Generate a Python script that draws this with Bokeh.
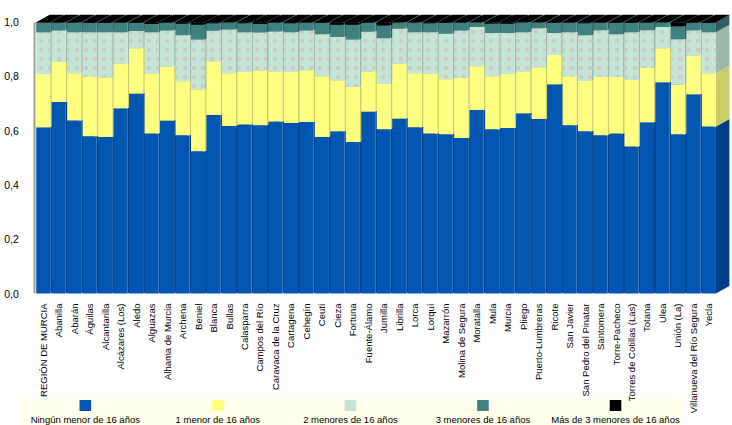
import math
from bokeh.plotting import figure
from bokeh.models import Range1d, LinearAxis, FixedTicker, CustomJSTickFormatter, ColumnDataSource
from bokeh.embed import file_html
from bokeh.resources import INLINE
from bokeh.core.properties import value

municipios = [
    "REGIÓN DE MURCIA", "Abanilla", "Abarán", "Águilas", "Alcantarilla",
    "Alcázares (Los)", "Aledo", "Alguazas", "Alhama de Murcia", "Archena",
    "Beniel", "Blanca", "Bullas", "Calasparra", "Campos del Río",
    "Caravaca de la Cruz", "Cartagena", "Cehegín", "Ceutí", "Cieza",
    "Fortuna", "Fuente-Álamo", "Jumilla", "Librilla", "Lorca", "Lorquí",
    "Mazarrón", "Molina de Segura", "Moratalla", "Mula", "Murcia", "Pliego",
    "Puerto-Lumbreras", "Ricote", "San Javier", "San Pedro del Pinatar",
    "Santomera", "Torre-Pacheco", "Torres de Cotillas (Las)", "Totana", "Ulea",
    "Unión (La)", "Villanueva del Río Segura", "Yecla",
]

ninguno = [0.613, 0.706, 0.638, 0.580, 0.577, 0.683, 0.737, 0.590, 0.638, 0.583,
           0.524, 0.658, 0.617, 0.623, 0.620, 0.634, 0.628, 0.632, 0.577, 0.598,
           0.558, 0.671, 0.605, 0.645, 0.613, 0.590, 0.587, 0.573, 0.676, 0.605,
           0.610, 0.664, 0.643, 0.771, 0.620, 0.598, 0.583, 0.590, 0.542, 0.631,
           0.779, 0.587, 0.734, 0.616]
uno = [0.196, 0.147, 0.174, 0.220, 0.219, 0.165, 0.167, 0.219, 0.199, 0.199,
       0.228, 0.198, 0.195, 0.193, 0.202, 0.184, 0.188, 0.191, 0.224, 0.187,
       0.203, 0.147, 0.167, 0.202, 0.199, 0.219, 0.203, 0.221, 0.162, 0.196,
       0.199, 0.152, 0.191, 0.108, 0.181, 0.185, 0.215, 0.208, 0.245, 0.200,
       0.125, 0.184, 0.143, 0.196]
dos = [0.153, 0.116, 0.151, 0.163, 0.167, 0.115, 0.064, 0.154, 0.132, 0.170,
       0.184, 0.113, 0.161, 0.147, 0.140, 0.148, 0.147, 0.146, 0.155, 0.160,
       0.175, 0.148, 0.169, 0.130, 0.151, 0.154, 0.167, 0.175, 0.144, 0.159,
       0.151, 0.147, 0.144, 0.081, 0.162, 0.169, 0.172, 0.158, 0.176, 0.139,
       0.078, 0.166, 0.093, 0.151]
tres = [0.034, 0.029, 0.035, 0.034, 0.034, 0.035, 0.029, 0.030, 0.029, 0.042,
        0.055, 0.027, 0.026, 0.033, 0.031, 0.032, 0.033, 0.029, 0.041, 0.046,
        0.055, 0.032, 0.047, 0.022, 0.035, 0.033, 0.040, 0.029, 0.017, 0.034,
        0.034, 0.036, 0.021, 0.037, 0.035, 0.044, 0.028, 0.041, 0.034, 0.028,
        0.017, 0.047, 0.028, 0.034]
mas = [0.004, 0.002, 0.002, 0.003, 0.003, 0.002, 0.003, 0.007, 0.002, 0.006,
       0.009, 0.004, 0.001, 0.004, 0.007, 0.002, 0.004, 0.002, 0.003, 0.009,
       0.009, 0.002, 0.012, 0.001, 0.002, 0.004, 0.003, 0.002, 0.001, 0.006,
       0.006, 0.001, 0.001, 0.003, 0.002, 0.004, 0.002, 0.003, 0.003, 0.002,
       0.001, 0.016, 0.002, 0.003]

series_names = ["Ningún menor de 16 años", "1 menor de 16 años",
                "2 menores de 16 años", "3 menores de 16 años",
                "Más de 3 menores de 16 años"]
front_colors = ["#0056b0", "#ffff80", "#c4e6d6", "#408080", "#000000"]
side_colors = ["#003f86", "#cccc66", "#9cb8ab", "#2c5f5f", "#000000"]

# layout constants (page pixels; Bokeh's page template has no body margin)
W, H = 732, 425
BAR_W = 0.91
DX, DY = 0.87, 0.0276
PX_X, PX_Y = 15.48, 271.3
x_start = -BAR_W / 2 - 35.7 / PX_X
x_end = x_start + W / PX_X
y_end = 293 / PX_Y
y_start = y_end - H / PX_Y

p = figure(width=W, height=H, x_range=Range1d(x_start, x_end),
           y_range=Range1d(y_start, y_end), output_backend="svg",
           toolbar_location=None, min_border=0, x_axis_type=None,
           y_axis_type=None, outline_line_color=None)
p.xgrid.visible = False
p.ygrid.visible = False
p.extra_x_ranges = {"px": Range1d(0, W)}
p.extra_y_ranges = {"py": Range1d(H, 0)}

series = [ninguno, uno, dos, tres, mas]
front = dict(left=[], right=[], bottom=[], top=[], color=[], hatch=[])
side = dict(xs=[], ys=[], color=[])
topf = dict(xs=[], ys=[], color=[])
for i in range(len(municipios)):
    l, r = i - BAR_W / 2, i + BAR_W / 2
    base = 0.0
    for k, vals in enumerate(series):
        v = vals[i]
        front["left"].append(l); front["right"].append(r)
        front["bottom"].append(base); front["top"].append(base + v)
        front["color"].append(front_colors[k])
        front["hatch"].append("dot" if k == 2 else " ")
        side["xs"].append([r, r + DX, r + DX, r])
        side["ys"].append([base, base + DY, base + v + DY, base + v])
        side["color"].append(side_colors[k])
        base += v
    topf["xs"].append([l, r, r + DX, l + DX])
    topf["ys"].append([base, base, base + DY, base + DY])
    topf["color"].append(front_colors[-1])

p.patches("xs", "ys", source=ColumnDataSource(side), fill_color="color",
          line_color=None)
p.patches("xs", "ys", source=ColumnDataSource(topf), fill_color="color",
          line_color=None)
p.quad(left="left", right="right", bottom="bottom", top="top",
       source=ColumnDataSource(front), fill_color="color", line_color=None,
       hatch_pattern="hatch", hatch_color="#d9a3b5", hatch_scale=9,
       hatch_weight=1, hatch_alpha=0.4)

yaxis = LinearAxis(fixed_location=-BAR_W / 2 - 0.09, bounds=(0, 1),
                   ticker=FixedTicker(ticks=[0, 0.2, 0.4, 0.6, 0.8, 1.0]),
                   formatter=CustomJSTickFormatter(code="return tick.toFixed(1).replace('.', ',')"),
                   axis_line_color="#a39f90", axis_line_width=2,
                   major_tick_line_color=None, minor_tick_line_color=None,
                   major_label_standoff=10,
                   major_label_text_font="Liberation Sans",
                   major_label_text_font_size="10.5px",
                   major_label_text_color="#000000")
p.add_layout(yaxis, "left")

xaxis = LinearAxis(fixed_location=0,
                   ticker=FixedTicker(ticks=list(range(len(municipios)))),
                   formatter=CustomJSTickFormatter(args=dict(labels=municipios),
                                                   code="return labels[Math.round(tick)] || '';"),
                   axis_line_color=None, major_tick_line_color=None,
                   minor_tick_line_color=None, major_label_standoff=4,
                   major_label_orientation=math.pi / 2,
                   major_label_text_font="Liberation Sans",
                   major_label_text_font_size="9.5px",
                   major_label_text_color="#000000")
p.add_layout(xaxis, "below")

# legend (page-pixel ranges)
leg_x = [84.8 + k * 132.55 for k in range(len(series_names))]
p.quad(left=[19.3], right=[681.7], top=[398], bottom=[H],
       x_range_name="px", y_range_name="py", fill_color="#ffffec",
       line_color=None)
p.quad(left=[x - 5.8 for x in leg_x], right=[x + 5.8 for x in leg_x],
       top=[399.5] * 5, bottom=[410.5] * 5, x_range_name="px",
       y_range_name="py", fill_color=front_colors, line_color=None)
p.text(x=leg_x, y=[418.5] * 5, text=series_names, x_range_name="px",
       y_range_name="py", text_align="center", text_baseline="middle",
       text_font=value("Liberation Sans"), text_font_size=value("9.5px"),
       text_color="#000000")

open("out.html", "w").write(file_html(p, INLINE))
